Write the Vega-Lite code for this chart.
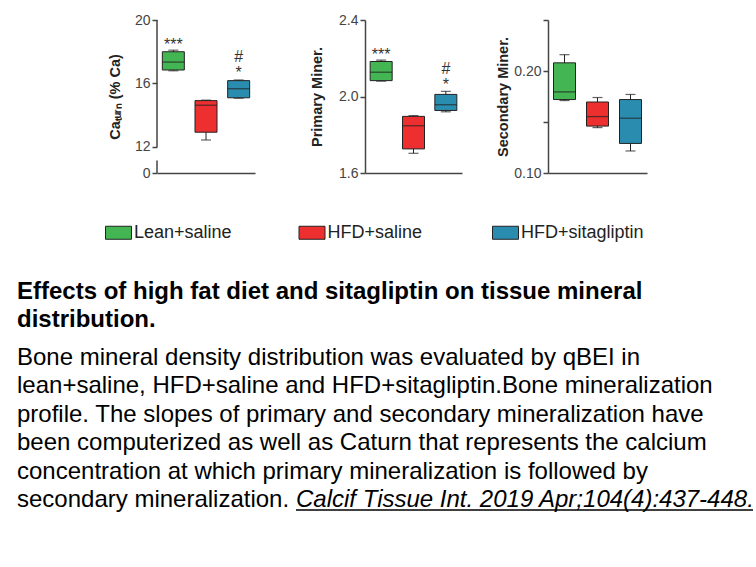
{
  "$schema": "https://vega.github.io/schema/vega-lite/v6.json",
  "padding": {"left": 17, "top": 13, "right": 5, "bottom": 5},
  "spacing": 99.5,
  "vconcat": [
    {
      "spacing": 10,
      "hconcat": [
        {
          "width": 98,
          "height": 153,
          "data": {"values": [
            {"group": "Lean+saline", "min": 16.8, "q1": 16.85, "median": 17.35, "q3": 18.0, "max": 18.1},
            {"group": "HFD+saline", "min": 12.44, "q1": 12.93, "median": 14.63, "q3": 14.92, "max": 14.95},
            {"group": "HFD+sitagliptin", "min": 15.07, "q1": 15.1, "median": 15.67, "q3": 16.18, "max": 16.22}
          ]},
          "encoding": {
            "x": {"field": "group", "type": "nominal", "scale": {"domain": ["Lean+saline", "HFD+saline", "HFD+sitagliptin"], "paddingInner": 0, "paddingOuter": 0}, "axis": {"title": null, "labels": false, "ticks": false}}
          },
          "layer": [
            {
              "mark": {"type": "rule", "color": "#222", "strokeWidth": 1},
              "encoding": {
                "y": {"field": "min", "type": "quantitative", "title": "Caₜᵤᵣₙ (% Ca)", "scale": {"domain": [10.36, 20], "nice": false, "zero": false}, "axis": {"title": "Caₜᵤᵣₙ (% Ca)", "domain": false, "minExtent": 140, "titleX": -35, "values": [10.36, 11.14, 12, 14, 16, 18, 20], "labelExpr": "datum.value == 10.36 ? '0' : (datum.value == 12 || datum.value == 16 || datum.value == 20 ? format(datum.value, 'd') : '')"}},
                "y2": {"field": "max"}
              }
            },
            {
              "mark": {"type": "tick", "color": "#222", "size": 10, "thickness": 1.2},
              "encoding": {"y": {"field": "min", "type": "quantitative", "title": "Caₜᵤᵣₙ (% Ca)"}}
            },
            {
              "mark": {"type": "tick", "color": "#222", "size": 10, "thickness": 1.2},
              "encoding": {"y": {"field": "max", "type": "quantitative", "title": "Caₜᵤᵣₙ (% Ca)"}}
            },
            {
              "mark": {"type": "bar", "width": 22, "stroke": "#222", "strokeWidth": 1},
              "encoding": {
                "y": {"field": "q1", "type": "quantitative", "title": "Caₜᵤᵣₙ (% Ca)"},
                "y2": {"field": "q3"},
                "fill": {"field": "group", "type": "nominal", "scale": {"domain": ["Lean+saline", "HFD+saline", "HFD+sitagliptin"], "range": ["#43B553", "#EE2F2F", "#2A8DB0"]}}
              }
            },
            {
              "mark": {"type": "tick", "color": "#222", "size": 22, "thickness": 1.3},
              "encoding": {"y": {"field": "median", "type": "quantitative", "title": "Caₜᵤᵣₙ (% Ca)"}}
            },
            {
              "data": {"values": [
                {"group": "Lean+saline", "y": 18.43, "label": "***"},
                {"group": "HFD+sitagliptin", "y": 17.67, "label": "#"},
                {"group": "HFD+sitagliptin", "y": 16.66, "label": "*"}
              ]},
              "mark": {"type": "text", "fontSize": 16, "color": "#333", "baseline": "middle", "align": "center"},
              "encoding": {
                "y": {"field": "y", "type": "quantitative", "title": "Caₜᵤᵣₙ (% Ca)"},
                "text": {"field": "label"}
              }
            },
            {
              "data": {"values": [
                {"from": 12, "to": 20},
                {"from": 10.36, "to": 11.14}
              ]},
              "mark": {"type": "rule", "color": "#444", "strokeWidth": 1.5},
              "encoding": {
                "x": {"datum": "Lean+saline", "type": "nominal", "bandPosition": 0, "axis": {"title": null, "labels": false, "ticks": false}},
                "y": {"field": "from", "type": "quantitative", "title": "Caₜᵤᵣₙ (% Ca)"},
                "y2": {"field": "to"}
              }
            }
          ]
        },
        {
          "width": 97,
          "height": 153,
          "data": {"values": [
            {"group": "Lean+saline", "min": 2.08, "q1": 2.083, "median": 2.127, "q3": 2.183, "max": 2.19},
            {"group": "HFD+saline", "min": 1.703, "q1": 1.726, "median": 1.847, "q3": 1.896, "max": 1.9},
            {"group": "HFD+sitagliptin", "min": 1.92, "q1": 1.927, "median": 1.957, "q3": 2.011, "max": 2.027}
          ]},
          "encoding": {
            "x": {"field": "group", "type": "nominal", "scale": {"domain": ["Lean+saline", "HFD+saline", "HFD+sitagliptin"], "paddingInner": 0, "paddingOuter": 0}, "axis": {"title": null, "labels": false, "ticks": false}}
          },
          "layer": [
            {
              "mark": {"type": "rule", "color": "#222", "strokeWidth": 1},
              "encoding": {
                "y": {"field": "min", "type": "quantitative", "title": "Primary Miner.", "scale": {"domain": [1.6, 2.4], "nice": false, "zero": false}, "axis": {"title": "Primary Miner.", "minExtent": 100, "titleX": -41, "values": [1.6, 1.8, 2.0, 2.2, 2.4], "labelExpr": "datum.value == 1.6 || datum.value == 2 || datum.value == 2.4 ? format(datum.value, '.1f') : ''"}},
                "y2": {"field": "max"}
              }
            },
            {
              "mark": {"type": "tick", "color": "#222", "size": 10, "thickness": 1.2},
              "encoding": {"y": {"field": "min", "type": "quantitative", "title": "Primary Miner."}}
            },
            {
              "mark": {"type": "tick", "color": "#222", "size": 10, "thickness": 1.2},
              "encoding": {"y": {"field": "max", "type": "quantitative", "title": "Primary Miner."}}
            },
            {
              "mark": {"type": "bar", "width": 22, "stroke": "#222", "strokeWidth": 1},
              "encoding": {
                "y": {"field": "q1", "type": "quantitative", "title": "Primary Miner."},
                "y2": {"field": "q3"},
                "fill": {"field": "group", "type": "nominal", "scale": {"domain": ["Lean+saline", "HFD+saline", "HFD+sitagliptin"], "range": ["#43B553", "#EE2F2F", "#2A8DB0"]}}
              }
            },
            {
              "mark": {"type": "tick", "color": "#222", "size": 22, "thickness": 1.3},
              "encoding": {"y": {"field": "median", "type": "quantitative", "title": "Primary Miner."}}
            },
            {
              "data": {"values": [
                {"group": "Lean+saline", "y": 2.215, "label": "***"},
                {"group": "HFD+sitagliptin", "y": 2.145, "label": "#"},
                {"group": "HFD+sitagliptin", "y": 2.061, "label": "*"}
              ]},
              "mark": {"type": "text", "fontSize": 16, "color": "#333", "baseline": "middle", "align": "center"},
              "encoding": {
                "y": {"field": "y", "type": "quantitative", "title": "Primary Miner."},
                "text": {"field": "label"}
              }
            }
          ]
        },
        {
          "width": 99,
          "height": 153,
          "data": {"values": [
            {"group": "Lean+saline", "min": 0.171, "q1": 0.172, "median": 0.1795, "q3": 0.208, "max": 0.216},
            {"group": "HFD+saline", "min": 0.1445, "q1": 0.146, "median": 0.1553, "q3": 0.1696, "max": 0.174},
            {"group": "HFD+sitagliptin", "min": 0.1216, "q1": 0.129, "median": 0.1537, "q3": 0.172, "max": 0.177}
          ]},
          "encoding": {
            "x": {"field": "group", "type": "nominal", "scale": {"domain": ["Lean+saline", "HFD+saline", "HFD+sitagliptin"], "paddingInner": 0, "paddingOuter": 0}, "axis": {"title": null, "labels": false, "ticks": false}}
          },
          "layer": [
            {
              "mark": {"type": "rule", "color": "#222", "strokeWidth": 1},
              "encoding": {
                "y": {"field": "min", "type": "quantitative", "title": "Secondary Miner.", "scale": {"domain": [0.1, 0.25], "nice": false, "zero": false}, "axis": {"title": "Secondary Miner.", "minExtent": 76, "titleX": -38, "values": [0.1, 0.15, 0.2, 0.25], "labelExpr": "datum.value == 0.1 || datum.value == 0.2 ? format(datum.value, '.2f') : ''"}},
                "y2": {"field": "max"}
              }
            },
            {
              "mark": {"type": "tick", "color": "#222", "size": 10, "thickness": 1.2},
              "encoding": {"y": {"field": "min", "type": "quantitative", "title": "Secondary Miner."}}
            },
            {
              "mark": {"type": "tick", "color": "#222", "size": 10, "thickness": 1.2},
              "encoding": {"y": {"field": "max", "type": "quantitative", "title": "Secondary Miner."}}
            },
            {
              "mark": {"type": "bar", "width": 22, "stroke": "#222", "strokeWidth": 1},
              "encoding": {
                "y": {"field": "q1", "type": "quantitative", "title": "Secondary Miner."},
                "y2": {"field": "q3"},
                "fill": {"field": "group", "type": "nominal", "scale": {"domain": ["Lean+saline", "HFD+saline", "HFD+sitagliptin"], "range": ["#43B553", "#EE2F2F", "#2A8DB0"]}}
              }
            },
            {
              "mark": {"type": "tick", "color": "#222", "size": 22, "thickness": 1.3},
              "encoding": {"y": {"field": "median", "type": "quantitative", "title": "Secondary Miner."}}
            }
          ]
        }
      ]
    },
    {
      "width": 600,
      "height": 199.5,
      "data": {"values": [
        {"line": 1, "kind": "title", "text": "Effects of high fat diet and sitagliptin on tissue mineral"},
        {"line": 2, "kind": "title", "text": "distribution."},
        {"line": 3, "kind": "body", "text": "Bone mineral density distribution was evaluated by qBEI in"},
        {"line": 4, "kind": "body", "text": "lean+saline, HFD+saline and HFD+sitagliptin.Bone mineralization"},
        {"line": 5, "kind": "body", "text": "profile. The slopes of primary and secondary mineralization have"},
        {"line": 6, "kind": "body", "text": "been computerized as well as Caturn that represents the calcium"},
        {"line": 7, "kind": "body", "text": "concentration at which primary mineralization is followed by"},
        {"line": 8, "kind": "body", "text": "secondary mineralization."},
        {"line": 8, "kind": "cite", "text": "Calcif Tissue Int. 2019 Apr;104(4):437-448."}
      ]},
      "encoding": {
        "y": {"field": "line", "type": "quantitative", "scale": {"domain": [1, 8], "reverse": true, "nice": false, "zero": false}, "axis": null}
      },
      "layer": [
        {
          "transform": [{"filter": "datum.kind == 'title'"}],
          "mark": {"type": "text", "x": -140, "dy": -9, "align": "left", "baseline": "alphabetic", "fontSize": 24, "fontWeight": "bold", "color": "#000", "font": "Liberation Sans"},
          "encoding": {"text": {"field": "text"}}
        },
        {
          "transform": [{"filter": "datum.kind == 'body'"}],
          "mark": {"type": "text", "x": -140, "align": "left", "baseline": "alphabetic", "fontSize": 24, "color": "#000", "font": "Liberation Sans"},
          "encoding": {"text": {"field": "text"}}
        },
        {
          "transform": [{"filter": "datum.kind == 'cite'"}],
          "mark": {"type": "text", "x": -140, "dx": 279, "align": "left", "baseline": "alphabetic", "fontSize": 24, "fontStyle": "italic", "color": "#000", "font": "Liberation Sans"},
          "encoding": {"text": {"field": "text"}}
        },
        {
          "transform": [{"filter": "datum.kind == 'cite'"}],
          "mark": {"type": "rule", "x": 139, "x2": 596, "yOffset": 3, "color": "#000", "strokeWidth": 1.5}
        }
      ]
    }
  ],
  "config": {
    "view": {"stroke": null},
    "font": "Liberation Sans",
    "axis": {
      "domainColor": "#444", "domainWidth": 1.5,
      "tickColor": "#444", "tickWidth": 1.5, "tickSize": 5,
      "labelColor": "#444", "labelFontSize": 14, "labelFont": "Liberation Sans", "labelPadding": 2,
      "titleFont": "Liberation Sans", "titleFontSize": 14.5, "titleFontWeight": "bold", "titleColor": "#222",
      "grid": false
    },
    "legend": {
      "orient": "none", "legendX": -52, "legendY": 199,
      "direction": "horizontal", "title": null,
      "symbolType": "M-1,-0.5H1V0.5H-1Z", "symbolSize": 676,
      "symbolStrokeColor": "#222", "symbolStrokeWidth": 1,
      "labelFontSize": 18, "labelFont": "Liberation Sans", "labelColor": "#222", "labelOffset": 2,
      "gridAlign": "all", "columnPadding": 39.5
    }
  }
}
